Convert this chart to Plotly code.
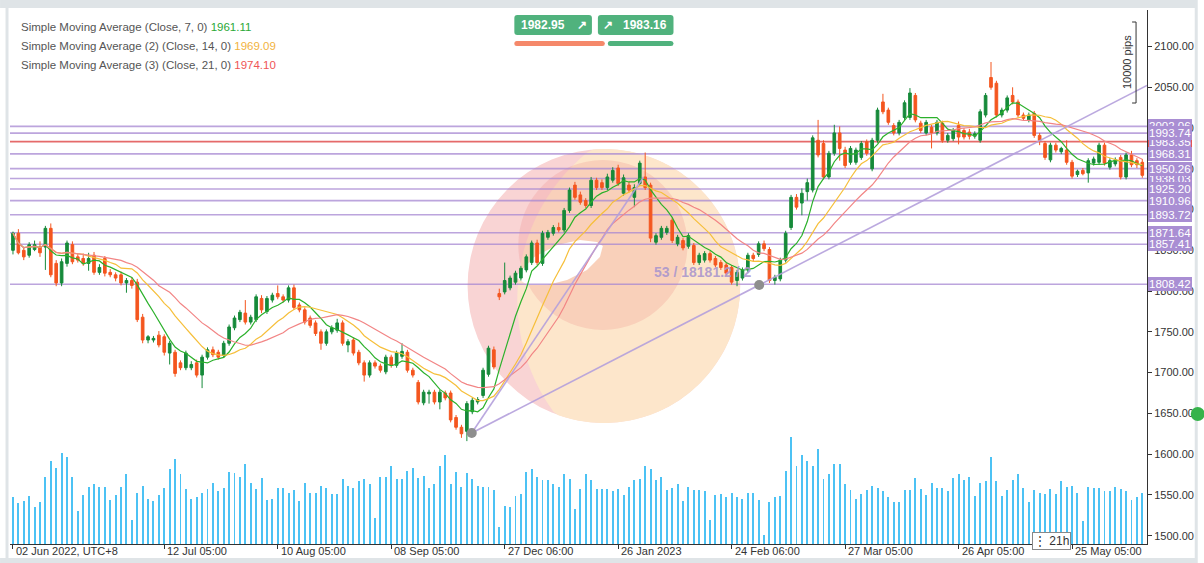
import math
import plotly.graph_objects as go
import pandas as pd

# ---------------- data ----------------
opens = [1850,1871,1850,1844,1851,1854,1854,1877,1834,1810, 1834,1857,1842,1840,1834,1844,1823,1840,1823,1820,
         1820,1810,1813,1811,1768,1740,1740,1746,1744,1724, 1725,1712,1706,1706,1712,1697,1719,1728,1725,1721,
         1736,1755,1765,1773,1762,1765,1791,1775,1789,1797, 1793,1789,1804,1783,1777,1767,1761,1750,1736,1750,
         1752,1761,1734,1740,1725,1712,1697,1712,1708,1701, 1719,1709,1720,1725,1703,1688,1663,1674,1676,1664,
         1675,1675,1645,1633,1628,1652,1664,1672,1698,1728, 1797,1799,1804,1811,1816,1826,1835,1859,1834,1866,
         1871,1878,1875,1899,1930,1918,1911,1905,1936,1933, 1927,1936,1951,1920,1930,1915,1932,1940,1930,1860,
         1866,1872,1887,1858,1862,1855,1856,1835,1838,1846, 1840,1835,1832,1829,1813,1816,1826,1844,1845,1858,
         1851,1813,1815,1838,1878,1915,1908,1922,1924,1985, 1981,1940,1969,1994,1973,1958,1958,1964,1983,1950,
         1985,2032,2022,2003,1994,2013,2013,2040,2006,1994, 2001,1994,2006,1985,1987,2003,1997,1995,1990,1985,
         2016,2062,2055,2016,2022,2040,2032,2016,2010,2018, 1991,1981,1961,1979,1971,1973,1958,1943,1948,1945,
         1957,1958,1979,1952,1956,1964,1940,1967,1960,1958]
highs = [1873,1876,1853,1860,1862,1861,1880,1883,1838,1840, 1862,1861,1846,1846,1847,1848,1833,1843,1827,1823,
         1824,1816,1817,1815,1772,1746,1745,1751,1747,1739, 1728,1715,1727,1714,1716,1722,1731,1732,1728,1739,
         1759,1770,1777,1789,1771,1796,1795,1794,1798,1807, 1796,1807,1808,1786,1780,1770,1764,1753,1753,1758,
         1766,1764,1741,1743,1728,1715,1715,1715,1711,1722, 1722,1727,1736,1728,1706,1691,1679,1679,1679,1679,
         1678,1678,1648,1636,1665,1669,1670,1706,1733,1732, 1803,1835,1819,1825,1831,1845,1862,1863,1874,1875,
         1881,1884,1902,1927,1934,1922,1914,1940,1939,1937, 1944,1952,1955,1943,1934,1931,1960,1970,1933,1871,
         1880,1880,1890,1869,1865,1871,1859,1847,1849,1849, 1843,1838,1835,1832,1826,1829,1847,1847,1861,1862,
         1854,1820,1841,1874,1918,1919,1926,1938,1991,2010, 1985,1972,2004,2002,1977,1978,1976,1984,1986,1988,
         2025,2042,2025,2006,2010,2034,2049,2043,2009,2010, 2004,2010,2009,1994,2000,2008,2000,1999,1996,2023,
         2043,2081,2058,2025,2040,2050,2035,2019,2019,2021, 1994,1984,1982,1982,1977,1985,1961,1949,1951,1963,
         1965,1982,1982,1963,1964,1967,1970,1972,1963,1962]
lows = [1845,1845,1838,1841,1849,1842,1826,1817,1806,1806, 1830,1833,1835,1831,1825,1820,1820,1818,1817,1812,
        1807,1798,1803,1762,1736,1736,1737,1731,1721,1710, 1695,1703,1703,1703,1694,1681,1716,1719,1716,1718,
        1733,1752,1762,1759,1759,1762,1773,1772,1786,1790, 1786,1786,1777,1774,1759,1755,1745,1728,1733,1747,
        1749,1733,1725,1721,1709,1689,1694,1705,1700,1698, 1706,1706,1717,1700,1694,1661,1660,1662,1661,1655,
        1666,1639,1630,1620,1616,1649,1661,1669,1695,1704, 1789,1796,1801,1808,1813,1823,1832,1832,1831,1863,
        1868,1872,1872,1896,1912,1906,1902,1902,1924,1924, 1924,1933,1929,1917,1921,1903,1929,1924,1860,1857,
        1863,1869,1859,1855,1850,1852,1832,1832,1835,1835, 1829,1826,1819,1808,1806,1813,1823,1837,1842,1849,
        1810,1808,1812,1835,1875,1900,1893,1911,1921,1964, 1937,1937,1966,1960,1951,1955,1955,1961,1966,1947,
        1982,2017,2004,1991,1991,2010,2010,2007,1994,1991, 1975,1991,1982,1982,1984,1980,1986,1986,1987,1982,
        2013,2047,2013,2013,2019,2029,2013,2009,2007,1988, 1979,1961,1958,1970,1968,1955,1938,1940,1942,1933,
        1954,1955,1954,1949,1953,1937,1937,1952,1951,1939]
closes = [1871,1847,1842,1857,1857,1847,1877,1820,1810,1836, 1859,1836,1838,1834,1840,1823,1829,1822,1820,1816,
          1810,1813,1807,1765,1740,1744,1742,1734,1725,1736, 1699,1706,1724,1710,1697,1719,1728,1722,1719,1736,
          1756,1767,1774,1762,1768,1793,1777,1791,1795,1793, 1789,1804,1780,1777,1762,1758,1748,1736,1750,1755,
          1761,1736,1738,1724,1712,1697,1712,1708,1703,1719, 1709,1724,1726,1703,1697,1664,1676,1676,1664,1676,
          1669,1642,1633,1625,1662,1666,1667,1703,1730,1707, 1793,1813,1816,1822,1828,1842,1859,1835,1871,1872,
          1878,1875,1899,1924,1915,1909,1905,1936,1927,1927, 1940,1948,1932,1939,1924,1927,1957,1927,1865,1868,
          1877,1877,1862,1866,1853,1868,1835,1844,1846,1838, 1832,1829,1822,1811,1823,1826,1844,1840,1858,1852,
          1813,1817,1838,1871,1915,1903,1920,1933,1988,1967, 1940,1969,1994,1975,1954,1975,1973,1981,1969,1985,
          2022,2020,2007,1994,2007,2031,2043,2010,1997,2007, 1994,2007,1985,1991,1997,1989,1989,1990,1993,2020,
          2040,2050,2016,2022,2037,2032,2016,2012,2016,1991, 1985,1964,1979,1973,1975,1958,1941,1947,1944,1960,
          1962,1979,1957,1960,1961,1940,1967,1955,1955,1942]
volumes = [127,110,117,130,100,113,180,225,205,247, 235,180,90,133,155,162,155,155,120,133,
           155,188,65,137,158,123,117,133,152,202, 231,188,149,123,127,139,149,165,143,152,
           195,192,180,215,165,149,179,120,123,152, 152,139,146,117,165,139,139,158,152,136,
           136,175,158,152,169,175,162,70,182,182, 211,175,175,198,205,178,185,152,162,211,
           240,162,195,155,192,175,158,155,155,146, 47,103,100,130,136,195,202,182,173,173,
           162,155,188,175,
           95,150,188,173,150,150,150,143,149,133, 155,173,177,211,202,173,182,146,152,162,
           117,155,146,146,143,65,133,136,127,139, 127,123,139,139,120,23,113,127,130,198,
           290,211,240,224,211,257,175,188,215,215, 162,146,123,136,146,158,152,143,127,113,
           113,146,146,179,149,133,165,152,152,143, 179,188,173,182,130,165,169,235,169,130,
           146,173,188,152,113,146,139,136,149,136, 169,155,158,139,62,155,152,152,143,143,
           155,149,143,120,127,139]

tick_idx = [0, 28, 49, 70, 91, 112, 133, 154, 175, 196]
tick_labels = ["02 Jun 2022, UTC+8", "12 Jul 05:00", "10 Aug 05:00", "08 Sep 05:00", "27 Dec 06:00",
               "26 Jan 2023", "24 Feb 06:00", "27 Mar 05:00", "26 Apr 05:00", "25 May 05:00"]
price_ticks = [1500, 1550, 1600, 1650, 1700, 1750, 1800, 1850, 1900, 1950, 2000, 2050, 2100]
levels = [2002.06, 1993.74, 1968.31, 1950.26, 1938.03, 1925.20, 1910.96, 1893.72, 1871.64, 1857.41, 1808.42]
red_level = 1983.35
sma_periods = [7, 14, 21]
sma_legend_values = ["1961.11", "1969.09", "1974.10"]
sma_names = ["Simple Moving Average (Close, 7, 0)", "Simple Moving Average (2) (Close, 14, 0)",
             "Simple Moving Average (3) (Close, 21, 0)"]
bid, ask = "1982.95", "1983.16"
# trend-line anchors (bar index, price)
anchor_a = (84.9, 1626.0)
anchor_b = (138.1, 1807.5)
anchor_peak = (116.7, 1940.0)

n = len(closes)
assert n == len(opens) == len(highs) == len(lows) == len(volumes) == 210
for o, h, l, c in zip(opens, highs, lows, closes):
    assert h >= max(o, c) and l <= min(o, c)
idx = list(range(n))

# ---------------- geometry helpers (pixels -> paper) ----------------
W, H = 1204, 563
L, R, T, B = 10, 1153, 10, 544
def pxx(x):
    return (x - L) / (R - L)
def pxy(y):
    return (B - y) / (B - T)
def poly_path(pts):
    return "M" + " L".join(f"{pxx(x):.5f},{pxy(y):.5f}" for x, y in pts) + " Z"
def circ_pts(cx, cy, r, k=240):
    return [(cx + r * math.cos(2 * math.pi * i / k), cy + r * math.sin(2 * math.pi * i / k)) for i in range(k)]
def inside(p, c):
    return (p[0] - c[0]) ** 2 + (p[1] - c[1]) ** 2 <= c[2] ** 2 + 1e-6
def intersect(c1, c2):
    pts = [p for p in circ_pts(*c1) if inside(p, c2)] + [p for p in circ_pts(*c2) if inside(p, c1)]
    mx = sum(p[0] for p in pts) / len(pts)
    my = sum(p[1] for p in pts) / len(pts)
    return sorted(pts, key=lambda p: math.atan2(p[1] - my, p[0] - mx))

FONT = "Liberation Sans, Arial, sans-serif"
UP, DN = "#168a3a", "#f4561f"
SMA_COLORS = ["#2bb12b", "#f6bf3a", "#f28585"]
SMA_TEXT = ["#2aa836", "#f2b33d", "#ef5555"]

fig = go.Figure()
fig.add_trace(go.Bar(x=idx, y=volumes, yaxis="y2", width=0.36,
                     marker=dict(color="#4cc2f4", line_width=0), hoverinfo="skip"))
fig.add_trace(go.Candlestick(x=idx, open=opens, high=highs, low=lows, close=closes,
                             increasing=dict(line=dict(color=UP, width=1), fillcolor=UP),
                             decreasing=dict(line=dict(color=DN, width=1), fillcolor=DN),
                             whiskerwidth=0, hoverinfo="skip"))
cs = pd.Series(closes, dtype=float)
for p, col in zip(sma_periods, SMA_COLORS):
    fig.add_trace(go.Scatter(x=idx, y=cs.rolling(p, min_periods=1).mean(), mode="lines",
                             line=dict(color=col, width=1.2), hoverinfo="skip"))

shapes = []
def rect_px(x0, y0, x1, y1, color, layer="above"):
    shapes.append(dict(type="rect", xref="paper", yref="paper", x0=pxx(x0), x1=pxx(x1),
                       y0=pxy(y1), y1=pxy(y0), fillcolor=color, line_width=0, layer=layer))
def circle_px(cx, cy, r, color, layer="below"):
    shapes.append(dict(type="circle", xref="paper", yref="paper", x0=pxx(cx - r), x1=pxx(cx + r),
                       y0=pxy(cy + r), y1=pxy(cy - r), fillcolor=color, line_width=0, layer=layer))
def rrect_path(x0, y0, x1, y1, r):
    pts = lambda x, y: f"{pxx(x):.5f},{pxy(y):.5f}"
    return (f"M{pts(x0+r,y0)} L{pts(x1-r,y0)} Q{pts(x1,y0)} {pts(x1,y0+r)} L{pts(x1,y1-r)} "
            f"Q{pts(x1,y1)} {pts(x1-r,y1)} L{pts(x0+r,y1)} Q{pts(x0,y1)} {pts(x0,y1-r)} "
            f"L{pts(x0,y0+r)} Q{pts(x0,y0)} {pts(x0+r,y0)} Z")

# circle drawing (behind candles)
big = (607, 286, 137)
peach_cut = (710, 300, 190)
circle_px(*big, "#f9d4d4")
shapes.append(dict(type="path", xref="paper", yref="paper", layer="below", fillcolor="#fde6cb",
                   line_width=0, path=poly_path(intersect(big, peach_cut))))
circle_px(606, 245, 85, "rgba(236,120,120,0.20)")
hole = [(518, 277), (537, 257), (560, 245), (583, 240), (600, 242), (606, 246), (603, 257),
        (590, 270), (570, 280), (550, 285), (530, 285)]
shapes.append(dict(type="path", xref="paper", yref="paper", layer="below", fillcolor="white",
                   line_width=0, path=poly_path(hole)))

# horizontal levels
for lv in levels:
    shapes.append(dict(type="line", xref="paper", yref="y", x0=0, x1=1, y0=lv, y1=lv,
                       line=dict(color="rgba(165,135,210,0.75)", width=1.6), layer="below"))
shapes.append(dict(type="line", xref="paper", yref="y", x0=0, x1=1, y0=red_level, y1=red_level,
                   line=dict(color="rgba(225,80,80,0.85)", width=1.6), layer="below"))

# trend lines
x_end = 209.87
slope = (anchor_b[1] - anchor_a[1]) / (anchor_b[0] - anchor_a[0])
shapes.append(dict(type="line", xref="x", yref="y", x0=anchor_a[0], y0=anchor_a[1], x1=x_end,
                   y1=anchor_a[1] + slope * (x_end - anchor_a[0]),
                   line=dict(color="rgba(180,160,220,0.9)", width=1.6), layer="above"))
shapes.append(dict(type="line", xref="x", yref="y", x0=anchor_a[0], y0=anchor_a[1], x1=anchor_peak[0],
                   y1=anchor_peak[1], line=dict(color="rgba(180,160,220,0.9)", width=1.6), layer="above"))
for ax_, ay_ in (anchor_a, anchor_b):
    shapes.append(dict(type="circle", xref="x", yref="y", xsizemode="pixel", ysizemode="pixel",
                       xanchor=ax_, yanchor=ay_, x0=-5, x1=5, y0=-5, y1=5,
                       fillcolor="#8e8e8e", line_width=0, layer="above"))

# frame
rect_px(0, 0, 1204, 8, "#dfe4e7")
rect_px(5.5, 8, 8.5, 558, "#dfe4e7")
rect_px(0, 558, 1204, 563, "#dfe4e7")
rect_px(1201, 8, 1204, 558, "#dfe4e7")

# top buttons
for (x0, x1, col) in ((517, 595, "#50b27d"), (601, 677, "#50b27d")):
    shapes.append(dict(type="path", xref="paper", yref="paper", path=rrect_path(x0, 15, x1, 35, 3),
                       fillcolor=col, line_width=0, layer="above"))
shapes.append(dict(type="path", xref="paper", yref="paper", path=rrect_path(517, 41, 608, 46, 2.5),
                   fillcolor="#f5886a", line_width=0, layer="above"))
shapes.append(dict(type="path", xref="paper", yref="paper", path=rrect_path(611, 41, 677, 46, 2.5),
                   fillcolor="#50b27d", line_width=0, layer="above"))

# pips bracket
shapes.append(dict(type="path", xref="paper", yref="paper", layer="above", line=dict(color="#333", width=1),
                   path=f"M{pxx(1138)},{pxy(22)} L{pxx(1142)},{pxy(22)} L{pxx(1142)},{pxy(103)} L{pxx(1138)},{pxy(103)}"))
# green dot at right edge
circle_px(1204, 414, 7, "#36b34a", layer="above")

annotations = []
def ann(x, y, text, size=11, color="#333", xanchor="left", yanchor="middle", **kw):
    d = dict(xref="paper", yref="paper", x=pxx(x), y=pxy(y), text=text, showarrow=False,
             font=dict(family=FONT, size=size, color=color), xanchor=xanchor, yanchor=yanchor)
    d.update(kw)
    annotations.append(d)

# legend
for k, (name, val, col) in enumerate(zip(sma_names, sma_legend_values, SMA_TEXT)):
    ann(19, 27 + 19.2 * k, f"{name} <span style='color:{col}'>{val}</span>", size=11.5, color="#555")

# buttons text
ann(522, 25, f"<b>{bid}</b>", size=12, color="white")
ann(585, 25, "<b>↗</b>", size=12, color="white", xanchor="center")
ann(611, 25, "<b>↗</b>", size=12, color="white", xanchor="center")
ann(672, 25, f"<b>{ask}</b>", size=12, color="white", xanchor="right")

# x labels
for ti, tl in zip(tick_idx, tick_labels):
    annotations.append(dict(xref="x", yref="paper", x=ti, y=pxy(551), text=tl, showarrow=False,
                            xanchor="left", yanchor="middle", xshift=1,
                            font=dict(family=FONT, size=11, color="#333")))

# right price labels
order = [red_level, 2002.06, 1993.74, 1968.31, 1938.03, 1950.26, 1925.20, 1910.96, 1893.72,
         1871.64, 1857.41, 1808.42]
for lv in order:
    annotations.append(dict(xref="paper", yref="y", x=1, y=lv, text=f"{lv:.2f}", showarrow=False,
                            xanchor="left", yanchor="middle", xshift=1, bgcolor="#a98ed3",
                            bordercolor="#e25555" if lv == red_level else "#a98ed3", borderwidth=1,
                            borderpad=0, font=dict(family=FONT, size=11.5, color="white")))

# drawing text and pips label
ann(655, 272, "<b>53 / 18181.2 / 2</b>", size=14, color="rgba(170,150,205,0.9)")
ann(1133, 62, "10000 pips", size=11, color="#333", xanchor="center", textangle=-90)
ann(1057, 541, "⋮ 21h", size=12, color="#333", xanchor="center", bgcolor="white",
    bordercolor="#888", borderwidth=1, borderpad=1)

fig.update_layout(
    width=W, height=H, autosize=False,
    margin=dict(l=L, r=W - R, t=T, b=H - B, pad=0),
    paper_bgcolor="white", plot_bgcolor="white",
    showlegend=False, hovermode=False, bargap=0,
    shapes=shapes, annotations=annotations,
    font=dict(family=FONT, size=11, color="#333"),
    xaxis=dict(range=[-0.55, x_end], showgrid=False, zeroline=False, showline=True,
               linecolor="#333", linewidth=1, ticks="outside", ticklen=4, tickcolor="#333",
               tickvals=tick_idx, showticklabels=False, rangeslider=dict(visible=False),
               fixedrange=True),
    yaxis=dict(side="right", range=[1489.8, 2144.8], showgrid=False, zeroline=False,
               showline=True, linecolor="#333", linewidth=1, ticks="outside", ticklen=4,
               tickcolor="#333", tickvals=price_ticks, ticktext=[f"{v:.2f}" for v in price_ticks],
               tickfont=dict(family=FONT, size=11, color="#333"), fixedrange=True),
    yaxis2=dict(overlaying="y", range=[0, 534 * 2.703], visible=False, fixedrange=True),
)

fig.write_html("out.html", config={"displayModeBar": False, "staticPlot": True},
               post_script="document.body.style.margin='0px';document.body.style.padding='0px';")
